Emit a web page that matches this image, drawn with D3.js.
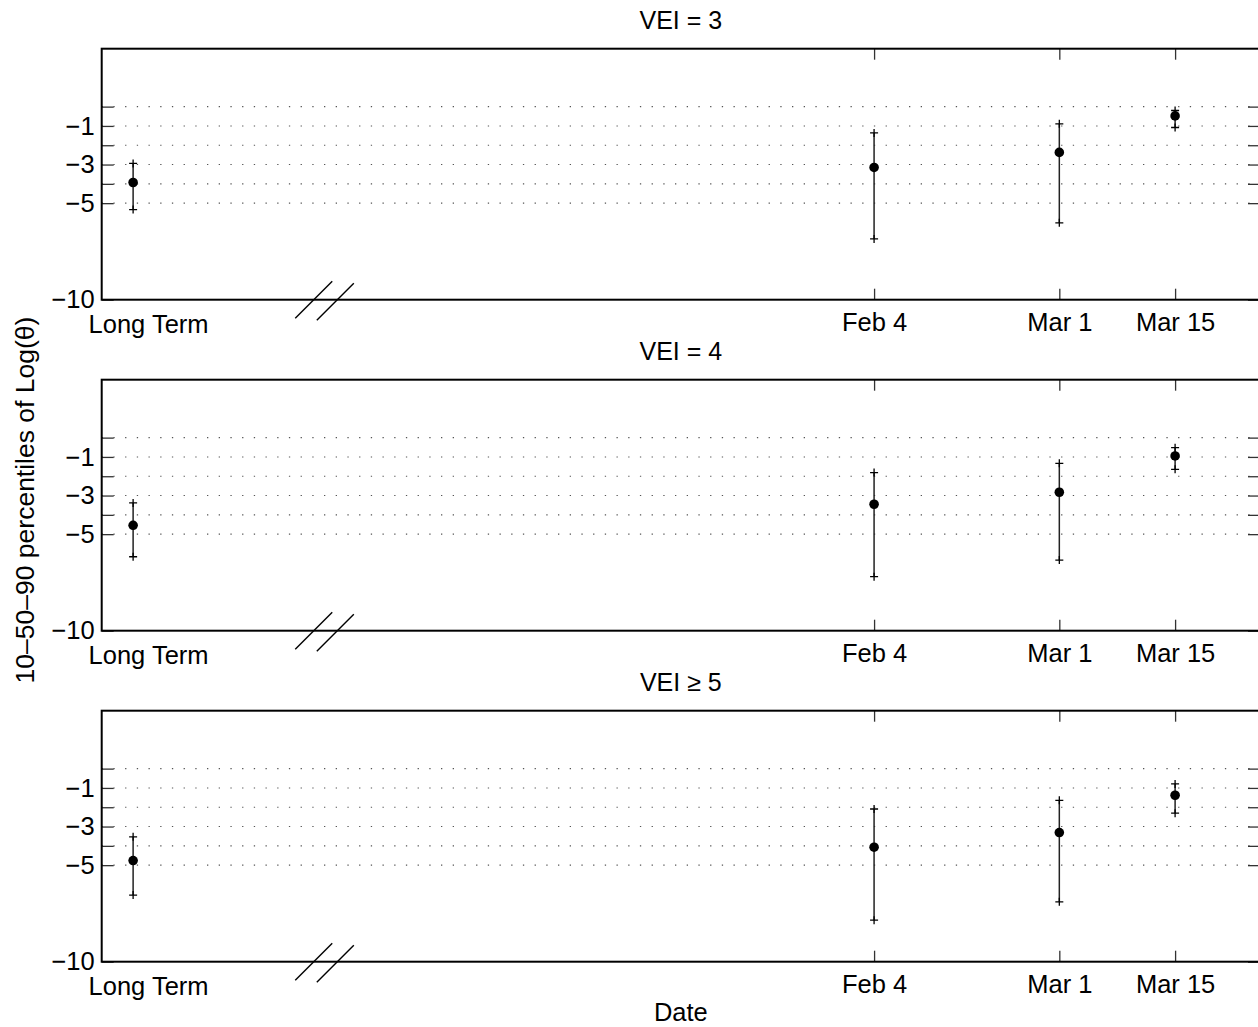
<!DOCTYPE html>
<html>
<head>
<meta charset="utf-8">
<script src="https://cdn.jsdelivr.net/npm/d3@7"></script>
<style>
  html, body { margin: 0; padding: 0; background: #fff; }
  svg { display: block; font-family: "Liberation Sans", Arial, Helvetica, sans-serif; }
</style>
</head>
<body>
<svg id="chart" width="1258" height="1027"></svg>
<script>
// ---- data ----
const categories = ["Long Term", "Feb 4", "Mar 1", "Mar 15"];
const dayValues = [-61, 35, 59, 74];          // x position of each category (days)
const dateTickValues = [35, 59, 74];
const dateTickLabels = ["Feb 4", "Mar 1", "Mar 15"];
const longTermLabelDay = -59;
const breakDays = [-37.6, -34.8];
const panelTitles = ["VEI = 3", "VEI = 4", "VEI \u2265 5"];
const yTickValues = [0, -1, -2, -3, -4, -5, -10];
const yTickLabels = [-1, -3, -5, -10];
const yGridValues = [0, -1, -2, -3, -4, -5];

const median3 = [-3.93, -3.15, -2.37, -0.48];
const p10_3   = [-5.33, -6.85, -6.02, -1.08];
const p90_3   = [-2.94, -1.36, -0.89, -0.20];

const median4 = [-4.54, -3.45, -2.83, -0.95];
const p10_4   = [-6.17, -7.20, -6.34, -1.64];
const p90_4   = [-3.38, -1.81, -1.33, -0.52];

const median5 = [-4.76, -4.07, -3.31, -1.38];
const p10_5   = [-6.55, -7.85, -6.90, -2.31];
const p90_5   = [-3.53, -2.09, -1.64, -0.79];

const seriesMedian = [median3, median4, median5];
const seriesLow = [p10_3, p10_4, p10_5];
const seriesHigh = [p90_3, p90_4, p90_5];

// ---- layout ----
const svg = d3.select("#chart");
const left = 101.7, right = 1260;
const panelTop0 = 48.7, panelH = 251, panelStep = 331;
const fontSize = 25.5;
const fontFamily = "Liberation Sans, Arial, Helvetica, sans-serif";

const x = d3.scaleLinear().domain([-65.07, 85]).range([left, right]);

panelTitles.forEach((title, i) => {
  const top = panelTop0 + i * panelStep;
  const bottom = top + panelH;
  const y = d3.scaleLinear().domain([-10, 3]).range([bottom, top]);
  const g = svg.append("g");

  // gridlines
  g.append("g").selectAll("line").data(yGridValues).join("line")
    .attr("x1", left).attr("x2", right)
    .attr("y1", d => y(d)).attr("y2", d => y(d))
    .attr("stroke", "#555").attr("stroke-width", 1.1)
    .attr("stroke-dasharray", "1.3,10.4");

  // axes
  const fmtY = d => yTickLabels.includes(d) ? d3.format("")(d) : "";
  const yl = g.append("g").attr("transform", `translate(${left},0)`)
    .call(d3.axisLeft(y).tickValues(yTickValues).tickSize(-12).tickPadding(7).tickFormat(fmtY));
  const yr = g.append("g").attr("transform", `translate(${right},0)`)
    .call(d3.axisRight(y).tickValues(yTickValues).tickSize(-12).tickFormat(() => ""));
  const xb = g.append("g").attr("transform", `translate(0,${bottom})`)
    .call(d3.axisBottom(x).tickValues(dateTickValues).tickSize(-11).tickPadding(13.2)
      .tickFormat((d, k) => dateTickLabels[k]));
  const xt = g.append("g").attr("transform", `translate(0,${top})`)
    .call(d3.axisTop(x).tickValues(dateTickValues).tickSize(-11).tickFormat(() => ""));
  [yl, yr, xb, xt].forEach(a => {
    a.select(".domain").remove();
    a.selectAll(".tick line").attr("stroke", "#333").attr("stroke-width", 1.3);
    a.selectAll(".tick text").attr("font-size", fontSize).attr("fill", "#000")
      .attr("font-family", fontFamily);
  });

  // box
  g.append("rect").attr("x", left).attr("y", top)
    .attr("width", right - left).attr("height", bottom - top)
    .attr("fill", "none").attr("stroke", "#000").attr("stroke-width", 2);

  // long term label
  g.append("text").attr("x", x(longTermLabelDay)).attr("y", bottom + 33.5)
    .attr("text-anchor", "middle").attr("font-size", fontSize).text(categories[0]);

  // axis break marks
  g.append("g").selectAll("line").data(breakDays).join("line")
    .attr("x1", d => x(d) - 18.5).attr("y1", (d, k) => bottom + 18.5 + k * 2)
    .attr("x2", d => x(d) + 18.5).attr("y2", (d, k) => bottom - 18.5 + k * 2)
    .attr("stroke", "#000").attr("stroke-width", 1.4);

  // title
  g.append("text").attr("x", (left + right) / 2).attr("y", top - 19.7)
    .attr("text-anchor", "middle").attr("font-size", 25).text(title);

  // error bars
  const med = seriesMedian[i], lo = seriesLow[i], hi = seriesHigh[i];
  const pts = dayValues.map((d, k) => ({ x: d, m: med[k], lo: lo[k], hi: hi[k] }));
  const eb = g.append("g");
  eb.selectAll("line.whisker").data(pts).join("line").attr("class", "whisker")
    .attr("x1", d => x(d.x)).attr("x2", d => x(d.x))
    .attr("y1", d => y(d.lo)).attr("y2", d => y(d.hi))
    .attr("stroke", "#222").attr("stroke-width", 1.5);
  const ends = pts.flatMap(d => [{ x: d.x, v: d.lo }, { x: d.x, v: d.hi }]);
  eb.selectAll("path.cap").data(ends).join("path").attr("class", "cap")
    .attr("d", d => `M${x(d.x) - 4},${y(d.v)}H${x(d.x) + 4}M${x(d.x)},${y(d.v) - 4}V${y(d.v) + 4}`)
    .attr("stroke", "#000").attr("stroke-width", 1.3).attr("fill", "none");
  eb.selectAll("circle").data(pts).join("circle")
    .attr("cx", d => x(d.x)).attr("cy", d => y(d.m)).attr("r", 4.8)
    .attr("fill", "#000");
});

// axis labels
svg.append("text").attr("x", (left + right) / 2).attr("y", 1021)
  .attr("text-anchor", "middle").attr("font-size", fontSize).text("Date");
svg.append("text")
  .attr("transform", `translate(34,500) rotate(-90)`)
  .attr("text-anchor", "middle").attr("font-size", 26.5)
  .text("10\u201350\u201390 percentiles of Log(\u03b8)");
</script>
</body>
</html>
